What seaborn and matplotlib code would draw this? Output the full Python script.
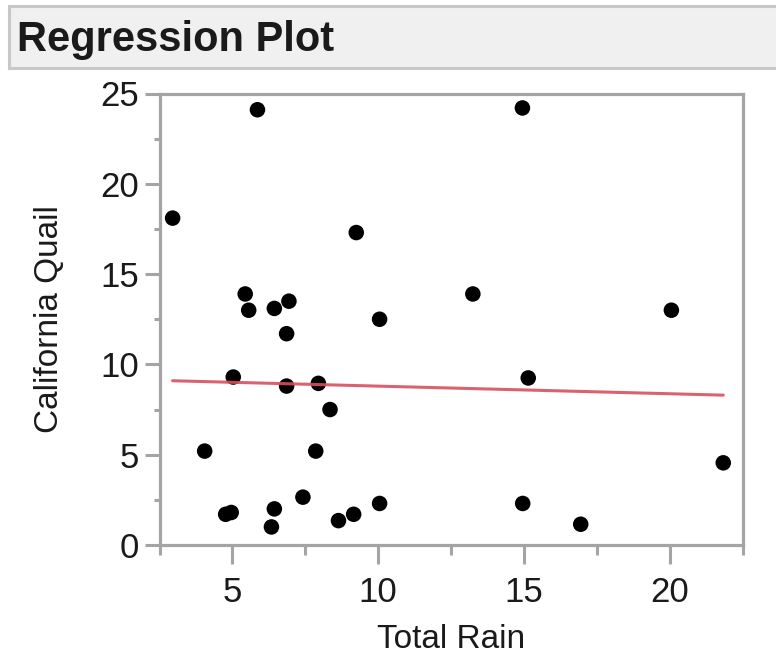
import matplotlib
matplotlib.use("Agg")
import matplotlib.pyplot as plt
from matplotlib.patches import Rectangle
from matplotlib.ticker import MultipleLocator
import seaborn as sns
import pandas as pd

# ---- data ----
total_rain = [2.95, 5.86, 14.95, 9.25, 5.44, 5.56, 6.44, 6.94, 6.86, 10.05,
              13.25, 20.06, 5.03, 6.86, 7.95, 8.35, 15.15, 4.05, 7.86, 7.42,
              21.84, 4.77, 4.96, 6.44, 6.34, 8.64, 9.16, 10.05, 14.96, 16.95]
california_quail = [18.1, 24.1, 24.2, 17.3, 13.9, 13.0, 13.1, 13.5, 11.7, 12.5,
                    13.9, 13.0, 9.3, 8.8, 8.95, 7.5, 9.25, 5.2, 5.2, 2.65,
                    4.55, 1.7, 1.8, 2.0, 1.0, 1.35, 1.7, 2.3, 2.3, 1.15]
x_ticks = [5, 10, 15, 20]
y_ticks = [0, 5, 10, 15, 20, 25]
title_text = "Regression Plot"
x_label = "Total Rain"
y_label = "California Quail"

df = pd.DataFrame({x_label: total_rain, y_label: california_quail})

sns.set_theme(style="white")
plt.rcParams["font.family"] = ["Liberation Sans", "DejaVu Sans"]

W, H = 776, 657
fig = plt.figure(figsize=(W / 100, H / 100), dpi=100)
fig.patch.set_facecolor("white")

# title bar
bar = Rectangle((8.5 / W, 1 - 67.5 / H), (W + 20) / W, 61 / H,
                transform=fig.transFigure, facecolor="#f0f0f0",
                edgecolor="#c8c8c8", linewidth=2.2, clip_on=False)
fig.patches.append(bar)
fig.text(17 / W, 1 - 51 / H, title_text, fontsize=30, fontweight="bold",
         color="#1a1a1a", va="baseline", ha="left")

left, right = 159.5 / W, 742.5 / W
top, bottom = 1 - 93.5 / H, 1 - 545 / H
ax = fig.add_axes([left, bottom, right - left, top - bottom])

sns.regplot(data=df, x=x_label, y=y_label, ax=ax, ci=None,
            scatter_kws=dict(s=125, color="black", edgecolor="none", alpha=1),
            line_kws=dict(color="#d9505f", linewidth=2.2, alpha=0.9))

ax.set_xlim(2.5, 22.5)
ax.set_ylim(0, 25)
ax.set_xticks(x_ticks)
ax.set_yticks(y_ticks)
ax.xaxis.set_minor_locator(MultipleLocator(2.5))
ax.yaxis.set_minor_locator(MultipleLocator(2.5))

grey = "#a4a4a4"
for sp in ax.spines.values():
    sp.set_visible(True)
    sp.set_color(grey)
    sp.set_linewidth(2.3)

ax.tick_params(axis="x", which="major", length=14, width=2.2, color=grey,
               direction="out", labelsize=25, pad=8, labelcolor="#1a1a1a", bottom=True)
ax.tick_params(axis="x", which="minor", length=7, width=2.2, color=grey,
               direction="out", bottom=True)
ax.tick_params(axis="y", which="major", length=11, width=2.2, color=grey,
               direction="out", labelsize=25, pad=4, labelcolor="#1a1a1a", left=True)
ax.tick_params(axis="y", which="minor", length=4.5, width=2.2, color=grey,
               direction="out", left=True)

ax.set_xlabel(x_label, fontsize=24, color="#1a1a1a")
ax.set_ylabel(y_label, fontsize=24, color="#1a1a1a")
ax.xaxis.set_label_coords(0.5, (545 - 640) / 452)
ax.xaxis.label.set_va("center")
ax.yaxis.set_label_coords((50 - 159.5) / 583, 0.5)
ax.yaxis.label.set_va("center")

fig.savefig("out.png", dpi=100, facecolor="white")
